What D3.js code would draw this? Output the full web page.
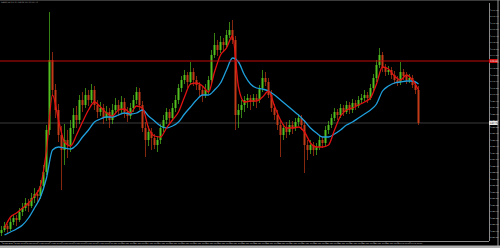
<!DOCTYPE html>
<html>
<head>
<meta charset="utf-8">
<script src="https://cdn.jsdelivr.net/npm/d3@7"></script>
<style>
  html, body { margin: 0; padding: 0; background: #000; overflow: hidden; }
  svg { display: block; }
</style>
</head>
<body>
<svg class="svgChart"></svg>
<script>
// chart size, plot area is x 0..489, y 3..241
const W = 500, H = 248;
const plotRight = 489;
const plotTop = 3;
const plotBottom = 241;

/******************DATA*********************/
// H4 candles, oldest first
const opens = [
  126.7,127.0,127.4,127.1,127.8,128.2,128.0,128.8,129.2,129.7,
  129.4,130.2,130.6,130.4,131.4,132.8,137.0,144.0,141.0,139.0,
  136.5,135.0,136.0,135.5,137.2,138.5,138.0,140.0,139.5,140.5,
  140.0,141.0,139.5,138.8,139.2,138.2,138.8,138.0,139.0,139.5,
  139.0,139.8,138.8,138.4,139.2,140.0,140.8,139.5,137.2,136.0,
  136.8,136.2,135.5,136.0,137.2,138.0,138.8,138.2,139.2,140.0,
  141.2,142.0,142.5,141.8,142.8,142.0,141.5,141.0,140.5,141.0,
  142.0,144.5,145.5,145.0,145.8,145.5,146.5,147.0,146.0,138.5,
  139.0,139.5,140.0,140.2,139.8,140.2,140.0,141.2,142.2,141.8,
  140.5,139.2,138.5,137.5,136.5,137.2,136.8,137.5,137.2,137.8,
  138.2,137.5,135.5,135.0,135.5,135.0,135.3,136.0,135.7,137.0,
  137.5,138.2,138.8,138.5,139.2,138.8,139.5,139.0,139.7,139.4,
  140.0,140.2,140.5,140.2,141.2,142.2,143.5,144.5,143.2,142.8,
  143.0,142.5,142.0,141.8,142.8,142.4,142.0,142.2,141.5,141.0
];
const highs = [
  127.4,127.8,127.6,128.2,128.6,128.5,129.2,129.7,130.2,130.1,
  130.7,131.2,131.0,132.0,133.5,137.5,148.8,144.8,141.6,139.6,
  137.4,137.6,137.0,138.0,139.2,139.4,140.5,140.8,141.2,141.0,
  141.6,141.4,140.0,139.8,139.6,139.4,139.2,139.6,140.2,140.0,
  140.4,140.2,139.3,139.7,140.5,141.3,141.2,139.9,137.8,137.4,
  137.2,136.6,136.4,137.6,138.5,139.2,139.1,139.7,140.5,141.6,
  142.4,143.0,142.8,143.8,143.2,142.4,141.8,141.4,141.6,142.4,
  145.0,146.7,146.0,146.4,146.2,147.0,147.8,148.0,146.4,139.6,
  140.0,140.4,140.6,140.5,140.6,140.6,141.5,143.0,142.8,142.2,
  141.0,139.6,139.0,138.0,137.6,137.8,138.0,137.9,138.2,138.6,
  138.5,138.0,136.0,136.0,135.8,135.7,136.4,136.3,137.4,137.9,
  138.6,139.2,139.1,139.6,139.5,139.9,139.8,140.1,140.0,140.4,
  140.6,141.0,140.8,141.6,142.6,144.0,145.2,144.8,143.6,143.4,
  143.3,142.9,142.4,143.8,143.1,142.8,142.6,142.5,141.8,141.4
];
const lows = [
  126.4,126.8,126.6,126.9,127.5,127.4,127.8,128.4,128.9,128.8,
  129.2,129.7,129.8,130.1,131.0,132.5,136.5,140.4,138.2,135.8,
  131.0,133.5,134.2,134.8,136.6,137.2,137.6,138.8,139.2,139.4,
  139.7,139.0,138.2,138.4,137.6,137.9,137.2,137.6,138.6,138.4,
  138.7,138.2,137.8,138.1,138.8,139.6,139.0,136.8,134.3,135.4,
  135.0,135.1,134.8,135.6,136.8,137.6,137.6,137.9,138.8,139.6,
  140.8,141.6,141.2,141.5,141.4,141.0,140.4,139.8,140.2,140.6,
  141.6,144.2,144.4,144.7,144.8,145.2,146.2,145.6,137.0,137.2,
  138.2,138.8,139.2,139.0,139.4,139.2,139.7,140.8,141.4,140.2,
  138.8,138.0,137.0,134.3,136.0,136.2,136.5,136.6,136.9,137.4,
  137.0,132.7,134.0,134.6,134.4,134.5,135.0,135.2,135.4,136.6,
  137.2,137.9,138.0,138.2,138.4,138.6,138.6,138.7,139.0,139.2,
  139.6,139.9,139.7,140.0,140.9,141.8,143.2,142.8,142.4,142.5,
  142.1,141.6,141.4,141.5,142.0,141.6,141.7,141.2,140.6,137.5
];
const closes = [
  127.0,127.4,127.1,127.8,128.2,128.0,128.8,129.2,129.7,129.4,
  130.2,130.6,130.4,131.4,132.8,137.0,144.0,141.0,139.0,136.5,
  135.0,136.0,135.5,137.2,138.5,138.0,140.0,139.5,140.5,140.0,
  141.0,139.5,138.8,139.2,138.2,138.8,138.0,139.0,139.5,139.0,
  139.8,138.8,138.4,139.2,140.0,140.8,139.5,137.2,136.0,136.8,
  136.2,135.5,136.0,137.2,138.0,138.8,138.2,139.2,140.0,141.2,
  142.0,142.5,141.8,142.8,142.0,141.5,141.0,140.5,141.0,142.0,
  144.5,145.5,145.0,145.8,145.5,146.5,147.0,146.0,138.5,139.0,
  139.5,140.0,140.2,139.8,140.2,140.0,141.2,142.2,141.8,140.5,
  139.2,138.5,137.5,136.5,137.2,136.8,137.5,137.2,137.8,138.2,
  137.5,135.5,135.0,135.5,135.0,135.3,136.0,135.7,137.0,137.5,
  138.2,138.8,138.5,139.2,138.8,139.5,139.0,139.7,139.4,140.0,
  140.2,140.5,140.2,141.2,142.2,143.5,144.5,143.2,142.8,143.0,
  142.5,142.0,141.8,142.8,142.4,142.0,142.2,141.5,141.0,137.7
];

// moving averages, read at every second candle (candles 1, 3, 5 ... 139)
const fastMA = [
  127.2,128.3,128.7,129.2,129.7,130.4,131.4,135.0,140.5,138.0,
  135.8,135.4,136.5,137.8,139.0,139.8,139.3,138.7,138.4,139.0,
  139.1,138.7,139.4,139.2,137.2,136.4,136.3,137.2,138.0,138.8,
  140.3,141.6,141.7,141.4,140.8,142.8,144.5,145.2,146.4,141.3,
  139.8,139.9,139.9,140.3,140.9,139.4,138.0,137.2,137.2,137.3,
  136.8,135.7,135.3,135.3,135.5,137.0,138.4,139.0,139.2,139.5,
  139.8,140.2,141.6,143.3,143.1,142.4,142.0,142.5,142.0,141.0
];
const slowMA = [
  126.5,126.8,127.1,127.5,128.2,129.2,130.3,132.2,135.0,135.3,
  135.2,135.1,135.5,136.3,137.0,137.8,138.1,138.3,138.3,138.5,
  138.7,138.6,138.7,139.0,138.4,137.9,137.4,137.2,137.4,137.8,
  138.6,139.3,140.0,140.5,140.5,141.0,141.7,143.0,144.2,143.8,
  142.5,141.6,141.2,141.1,140.9,140.5,140.0,139.5,139.0,138.5,
  137.9,137.2,136.7,136.3,136.3,136.6,137.0,137.5,137.8,138.2,
  138.6,139.0,139.6,140.9,141.4,141.7,141.8,141.9,141.9,141.6
];

// horizontal line object and current bid
const hLinePrice = 143.90;
const bidPrice = 137.70;

// right scale labels
const priceTicks = [
  126.30,126.95,127.60,128.25,128.90,129.55,130.20,130.85,131.50,132.15,
  132.80,133.45,134.10,134.75,135.40,136.05,136.70,137.35,138.00,138.65,
  139.30,139.95,140.60,141.25,141.90,142.55,143.20,143.85,144.50,145.15,
  145.80,146.45,147.10,147.75,148.40,149.05
];

// time labels, one every 4 candles
const timeLabels = [
  '2 Jan 2019','2 Jan 16:00','3 Jan 08:00','4 Jan 00:00','4 Jan 16:00',
  '7 Jan 08:00','8 Jan 00:00','8 Jan 16:00','9 Jan 08:00','10 Jan 00:00',
  '10 Jan 16:00','11 Jan 08:00','14 Jan 00:00','14 Jan 16:00','15 Jan 08:00',
  '16 Jan 00:00','16 Jan 16:00','17 Jan 08:00','18 Jan 00:00','18 Jan 16:00',
  '21 Jan 08:00','22 Jan 00:00','22 Jan 16:00','23 Jan 08:00','24 Jan 00:00',
  '24 Jan 16:00','25 Jan 08:00','28 Jan 00:00','28 Jan 16:00','29 Jan 08:00',
  '30 Jan 00:00','30 Jan 16:00','31 Jan 08:00','1 Feb 00:00','1 Feb 16:00'
];
const timeIdx = [
  0,4,8,12,16,20,24,28,32,36,40,44,48,52,56,60,64,68,72,76,
  80,84,88,92,96,100,104,108,112,116,120,124,128,132,136
];

const header = 'GBPJPY,H4  137.95 138.02 137.66 137.70';

/******************SCALES*********************/
const candles = opens.map((o, i) => ({
  i: i, o: o, h: highs[i], l: lows[i], c: closes[i]
}));

const xScale = d3.scaleLinear()
  .domain([0, candles.length - 1])
  .range([1.5, 418.5]);

const yScale = d3.scaleLinear()
  .domain([126.0, 149.6])
  .range([240, 4]);

const bullColor = '#52bf1e';
const bearColor = '#c23a16';

const svg = d3.select('.svgChart')
  .attr('width', W)
  .attr('height', H)
  .style('font-family', 'DejaVu Sans, sans-serif');

svg.append('rect')
  .attr('width', W)
  .attr('height', H)
  .attr('fill', '#000');

//top frame strip + symbol text
svg.append('rect')
  .attr('x', 0).attr('y', 0)
  .attr('width', W).attr('height', 1)
  .attr('fill', '#3c3c3c');
svg.append('text')
  .attr('x', 1)
  .attr('y', 3.2)
  .attr('font-size', 1.8)
  .attr('fill', '#b0b0b0')
  .text(header);

const plot = svg.append('g')
  .attr('class', 'plot');

//bid line (grey) under the candles
plot.append('line')
  .attr('x1', 0).attr('x2', plotRight)
  .attr('y1', yScale(bidPrice)).attr('y2', yScale(bidPrice))
  .attr('stroke', '#3a3a3a')
  .attr('stroke-width', 1);

/******************CANDLES*********************/
const cg = plot.append('g').attr('class', 'candles');

cg.selectAll('line')
  .data(candles)
  .enter()
  .append('line')
    .attr('x1', d => xScale(d.i))
    .attr('x2', d => xScale(d.i))
    .attr('y1', d => yScale(d.h))
    .attr('y2', d => yScale(d.l))
    .attr('stroke', d => d.c >= d.o ? bullColor : bearColor)
    .attr('stroke-width', 0.8)
    .attr('opacity', 0.85);

cg.selectAll('rect')
  .data(candles)
  .enter()
  .append('rect')
    .attr('x', d => xScale(d.i) - 1)
    .attr('y', d => yScale(Math.max(d.o, d.c)))
    .attr('width', 2)
    .attr('height', d => Math.max(0.7, Math.abs(yScale(d.o) - yScale(d.c))))
    .attr('fill', d => d.c >= d.o ? bullColor : bearColor);

/******************MOVING AVERAGES*********************/
const maLine = d3.line()
  .x((d, j) => xScale(1 + 2 * j))
  .y(d => yScale(d))
  .curve(d3.curveMonotoneX);

plot.append('path')
  .datum(slowMA)
  .attr('d', maLine)
  .attr('fill', 'none')
  .attr('stroke', '#1f9fdc')
  .attr('stroke-width', 1.3);

plot.append('path')
  .datum(fastMA)
  .attr('d', maLine)
  .attr('fill', 'none')
  .attr('stroke', '#e01212')
  .attr('stroke-width', 1.3);

//red horizontal line object
plot.append('line')
  .attr('x1', 0).attr('x2', plotRight)
  .attr('y1', yScale(hLinePrice)).attr('y2', yScale(hLinePrice))
  .attr('stroke', '#c40a0a')
  .attr('stroke-width', 1);

/******************AXES*********************/
const yAxis = d3.axisRight(yScale)
  .tickValues(priceTicks)
  .tickSize(1.5)
  .tickPadding(0.8)
  .tickFormat(d3.format('.2f'));

const ya = svg.append('g')
  .attr('class', 'yAxis')
  .attr('transform', `translate(${plotRight},0)`)
  .call(yAxis);
ya.select('.domain')
  .attr('d', `M0.5,${plotTop}V${plotBottom}`)
  .attr('stroke', '#8a8a8a');
ya.selectAll('line').attr('stroke', '#8a8a8a');
ya.selectAll('text')
  .attr('font-size', 2.4)
  .attr('fill', '#c8c8c8');

//price boxes on the scale
const boxes = [
  {p: hLinePrice, bg: '#d01010', fg: '#fff'},
  {p: bidPrice, bg: '#e8e8e8', fg: '#000'}
];
const bx = svg.append('g').attr('class', 'boxes');
bx.selectAll('rect')
  .data(boxes)
  .enter()
  .append('rect')
    .attr('x', plotRight)
    .attr('y', d => yScale(d.p) - 2)
    .attr('width', 9)
    .attr('height', 4)
    .attr('fill', d => d.bg);
bx.selectAll('text')
  .data(boxes)
  .enter()
  .append('text')
    .attr('x', plotRight + 1)
    .attr('y', d => yScale(d.p) + 0.9)
    .attr('font-size', 2.4)
    .attr('fill', d => d.fg)
    .text(d => d3.format('.2f')(d.p));

const xAxis = d3.axisBottom(xScale)
  .tickValues(timeIdx)
  .tickSize(1.5)
  .tickPadding(0.4)
  .tickFormat((d, i) => timeLabels[i]);

const xa = svg.append('g')
  .attr('class', 'xAxis')
  .attr('transform', `translate(0,${plotBottom})`)
  .call(xAxis);
xa.select('.domain')
  .attr('d', `M0,0.5H${plotRight}`)
  .attr('stroke', '#8a8a8a');
xa.selectAll('line').attr('stroke', '#8a8a8a');
xa.selectAll('text')
  .attr('font-size', 2.2)
  .attr('fill', '#c0c0c0')
  .attr('text-anchor', 'start')
  .attr('dx', 0.5);

//right border and status strip
svg.append('rect')
  .attr('x', 497.5).attr('y', 0)
  .attr('width', 1).attr('height', H)
  .attr('fill', '#9a9a9a');
svg.append('rect')
  .attr('x', 0).attr('y', 245.5)
  .attr('width', W).attr('height', 2.5)
  .attr('fill', '#b0b0b0');
</script>
</body>
</html>
